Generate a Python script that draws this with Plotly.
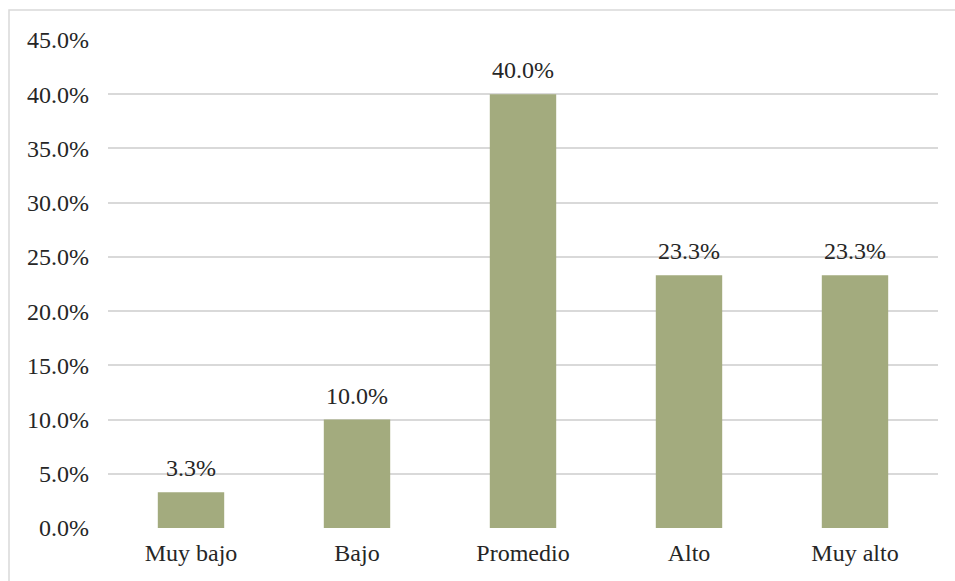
import plotly.graph_objects as go

categories = ["Muy bajo", "Bajo", "Promedio", "Alto", "Muy alto"]
values = [3.3, 10.0, 40.0, 23.3, 23.3]
tick_vals = [0, 5, 10, 15, 20, 25, 30, 35, 40, 45]
tick_text = [f"{v:.1f}%" for v in tick_vals]

FONT = "Liberation Serif"
TXT = "#262626"
FS = 24

fig = go.Figure()
fig.add_trace(go.Bar(
    x=categories, y=values,
    marker=dict(color="#A3AB7E", line=dict(width=0)),
    hoverinfo="skip",
))

for c, v in zip(categories, values):
    fig.add_annotation(x=c, y=v, text=f"{v:.1f}%", showarrow=False,
                       yanchor="bottom", yshift=9,
                       font=dict(family=FONT, size=FS, color=TXT))

W, H = 955, 581
L, R, T, B = 108, 17, 40, 53
pw, ph = W - L - R, H - T - B
fig.add_shape(type="rect", xref="paper", yref="paper",
              x0=(9 - L) / pw, x1=(W + 10 - L) / pw,
              y0=-(B + 10) / ph, y1=1 + (T - 10) / ph,
              line=dict(color="#D9D9D9", width=1.5), fillcolor="rgba(0,0,0,0)",
              layer="below")

fig.update_layout(
    width=W, height=H,
    margin=dict(l=L, r=R, t=T, b=B),
    paper_bgcolor="white", plot_bgcolor="white",
    bargap=0.6,
    showlegend=False,
    font=dict(family=FONT, size=FS, color=TXT),
    xaxis=dict(showgrid=False, showline=False, ticks="", ticklabelstandoff=8,
               tickfont=dict(family=FONT, size=FS, color=TXT)),
    yaxis=dict(range=[0, 45], tickvals=tick_vals, ticktext=tick_text,
               showgrid=True, gridcolor="#D9D9D9", gridwidth=1.5,
               zeroline=False, showline=False, ticks="",
               ticklabelstandoff=18,
               tickfont=dict(family=FONT, size=FS, color=TXT)),
)

fig.write_html("out.html")
